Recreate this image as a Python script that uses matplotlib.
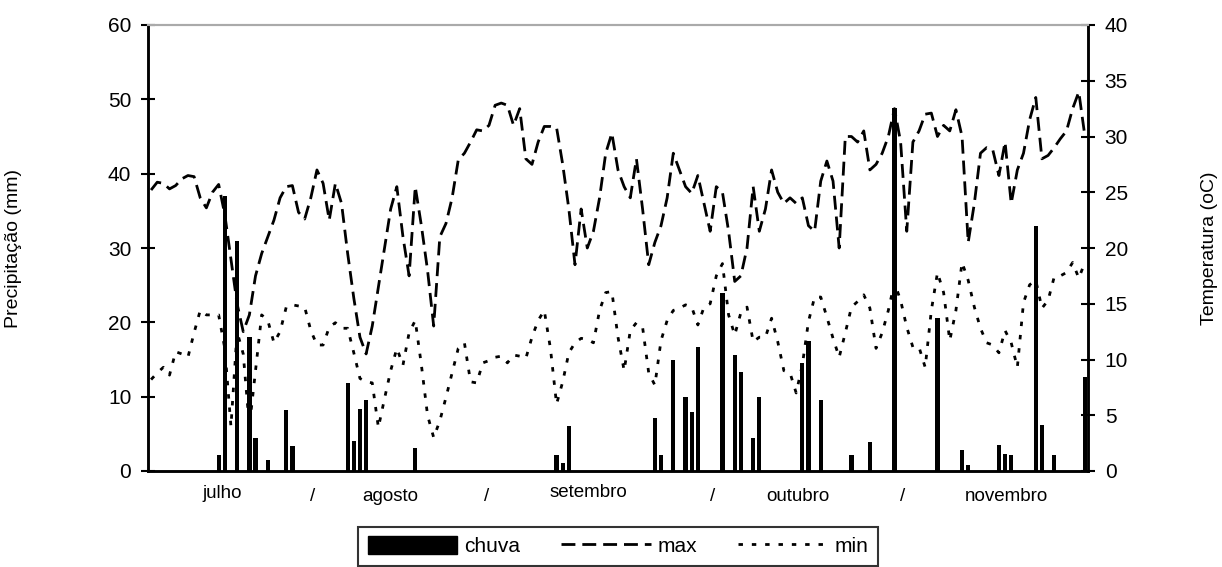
import numpy as np
import matplotlib
matplotlib.use("Agg")
import matplotlib.pyplot as plt
from matplotlib.lines import Line2D
from matplotlib.patches import Patch
import matplotlib.transforms as mtransforms

plt.rcParams['font.family'] = ['Liberation Sans', 'DejaVu Sans']

# days 1..153 (1 jul - 30 nov)
days = np.arange(1, 154)

# rain (mm): only days with rain
rain_days = [12, 13, 15, 17, 18, 20, 23, 24,
             33, 34, 35, 36, 44,
             67, 68, 69, 83, 84, 86, 88, 89, 90,
             94, 96, 97, 99, 100, 107, 108, 110, 115, 118, 122,
             129, 133, 134, 139, 140, 141, 145, 146, 148, 153]
rain_mm = [2.2, 37.0, 31.0, 18.0, 4.4, 1.5, 8.2, 3.4,
           11.8, 4.0, 8.3, 9.5, 3.1,
           2.2, 1.1, 6.0, 7.1, 2.2, 15.0, 10.0, 8.0, 16.7,
           24.0, 15.6, 13.3, 4.4, 10.0, 14.5, 17.5, 9.5, 2.2, 3.9, 48.8,
           20.6, 2.8, 0.8, 3.5, 2.3, 2.2, 33.0, 6.2, 2.2, 12.7]

# max temperature (oC)
t_max = [
    # julho
    25.2, 25.9, 25.8, 25.3, 25.6, 26.2, 26.5, 26.4, 24.5, 23.6, 25.0, 25.7,
    23.0, 19.0, 15.0, 12.5, 14.0, 17.5, 19.5, 21.0, 22.5, 24.5, 25.5, 25.6,
    23.2, 22.6, 24.5, 27.0, 25.8, 22.5, 25.8,
    # agosto
    24.0, 19.5, 15.5, 12.0, 10.5, 13.0, 16.5, 20.0, 23.5, 25.5, 21.0, 17.5,
    25.5, 22.0, 18.0, 13.0, 21.0, 22.2, 24.5, 27.9, 28.5, 29.5, 30.6, 30.5,
    31.0, 32.8, 33.0, 32.8, 31.0, 32.5, 28.0,
    # setembro
    27.5, 29.5, 30.9, 30.9, 30.8, 27.5, 23.5, 18.5, 23.5, 20.0, 21.5, 24.5,
    28.5, 30.3, 27.0, 25.5, 24.5, 28.0, 23.5, 18.5, 20.5, 22.0, 24.5, 28.5,
    27.0, 25.5, 24.9, 26.5, 24.0, 21.5,
    # outubro
    25.5, 25.0, 21.5, 17.0, 17.5, 20.0, 25.5, 21.5, 23.5, 27.0, 25.0, 24.0,
    24.5, 24.0, 24.5, 22.0, 21.5, 26.0, 27.8, 26.0, 20.0, 30.0, 30.0, 29.5,
    30.5, 27.0, 27.5, 28.5, 30.0, 32.5, 29.5,
    # novembro
    21.5, 29.5, 30.5, 32.0, 32.1, 30.0, 31.0, 30.5, 32.4, 30.0, 20.5, 24.0,
    28.5, 29.0, 28.8, 26.5, 29.5, 24.0, 27.0, 28.5, 31.5, 33.5, 28.0, 28.3,
    29.0, 29.8, 30.5, 32.5, 34.0, 30.0,
]

# min temperature (oC)
t_min = [
    # julho
    8.2, 8.8, 9.3, 8.6, 10.7, 10.5, 10.2, 12.4, 14.4, 14.0, 14.0, 14.0,
    11.0, 4.0, 12.5, 10.5, 4.0, 9.0, 14.0, 13.5, 11.5, 12.5, 14.7, 14.9,
    14.8, 14.7, 12.6, 11.3, 11.3, 12.9, 13.3,
    # agosto
    12.8, 12.8, 10.6, 8.3, 8.0, 7.9, 3.9, 6.5, 9.0, 11.0, 9.5, 12.4,
    13.5, 9.5, 5.0, 3.0, 4.5, 6.6, 8.8, 11.0, 11.5, 8.0, 7.9, 9.7,
    9.9, 10.2, 10.3, 9.7, 10.4, 10.3, 10.1,
    # setembro
    12.0, 13.5, 14.4, 11.0, 6.0, 8.0, 10.6, 11.5, 11.9, 11.8, 11.5, 14.4,
    16.0, 16.1, 12.0, 9.0, 12.6, 13.3, 12.9, 8.8, 7.7, 11.7, 13.5, 14.4,
    14.6, 14.9, 14.7, 13.1, 14.7, 15.0,
    # outubro
    17.5, 18.6, 14.0, 12.2, 14.2, 14.7, 11.6, 12.0, 12.0, 13.7, 11.6, 9.0,
    8.8, 7.0, 9.5, 13.4, 15.6, 15.6, 13.8, 11.9, 10.2, 12.4, 14.7, 15.2,
    15.8, 14.6, 11.0, 12.4, 14.4, 16.9, 15.3,
    # novembro
    12.9, 11.1, 11.1, 9.3, 14.4, 17.8, 16.0, 11.7, 14.4, 18.7, 17.1, 14.7,
    12.8, 11.5, 11.3, 10.6, 12.6, 11.5, 9.3, 15.1, 16.7, 17.1, 14.6, 15.3,
    17.4, 17.5, 17.8, 18.7, 17.3, 18.7,
]

month_names = ['julho', '/', 'agosto', '/', 'setembro', '/', 'outubro', '/', 'novembro']
month_pos = [12.6, 27.3, 40.0, 55.6, 72.1, 92.4, 106.3, 123.4, 140.2]
month_y = [-0.050, -0.058, -0.058, -0.058, -0.048, -0.058, -0.058, -0.058, -0.058]

chuva = np.zeros(len(days))
for d, v in zip(rain_days, rain_mm):
    chuva[d - 1] = v

fig = plt.figure(figsize=(12.22, 5.67), dpi=100)
ax = fig.add_axes([148 / 1222, 1 - 471 / 567, 940 / 1222, 446 / 567])
ax2 = ax.twinx()

ax.bar(days, chuva, width=0.7, color='black', zorder=2)
ax2.plot(days, t_max, color='black', lw=2, dashes=(5, 2.5))
ax2.plot(days, t_min, color='black', lw=2, dashes=(1.6, 3.2))

ax.set_xlim(0.5, 153.5)
ax.set_ylim(0, 60)
ax2.set_ylim(0, 40)
ax.set_yticks(np.arange(0, 61, 10))
ax2.set_yticks(np.arange(0, 41, 5))
ax.set_xticks([])

for a in (ax, ax2):
    a.tick_params(axis='y', direction='inout', length=10, width=1.5,
                  labelsize=15, pad=7)
    for s in ('left', 'right', 'bottom'):
        a.spines[s].set_linewidth(1.8)
    a.spines['top'].set_color('#aaaaaa')
    a.spines['top'].set_linewidth(1.5)

ax.set_ylabel('Precipitação (mm)', fontsize=14)
ax.yaxis.set_label_coords(-0.134, 0.5)
ax2.set_ylabel('Temperatura (oC)', fontsize=14)
ax2.yaxis.set_label_coords(1.12, 0.5)

trans = mtransforms.blended_transform_factory(ax.transData, ax.transAxes)
for name, xp, yp in zip(month_names, month_pos, month_y):
    ax.text(xp, yp, name, transform=trans, ha='center', va='center',
            fontsize=13.5, family=['Liberation Sans Narrow', 'Liberation Sans'])

handles = [Patch(facecolor='black', edgecolor='black'),
           Line2D([], [], color='black', lw=2, dashes=(5, 2.5)),
           Line2D([], [], color='black', lw=2, dashes=(1.6, 3.2))]
leg = fig.legend(handles, ['chuva', 'max', 'min'], ncol=3,
                 loc='upper center', bbox_to_anchor=(618 / 1222, 1 - 527 / 567),
                 fontsize=15, frameon=True, fancybox=False, edgecolor='black',
                 handlelength=4.3, handleheight=0.9, columnspacing=2.0,
                 handletextpad=0.3, borderpad=0.45, borderaxespad=0)
leg.get_frame().set_linewidth(1.5)

fig.savefig('out.png', dpi=100)
